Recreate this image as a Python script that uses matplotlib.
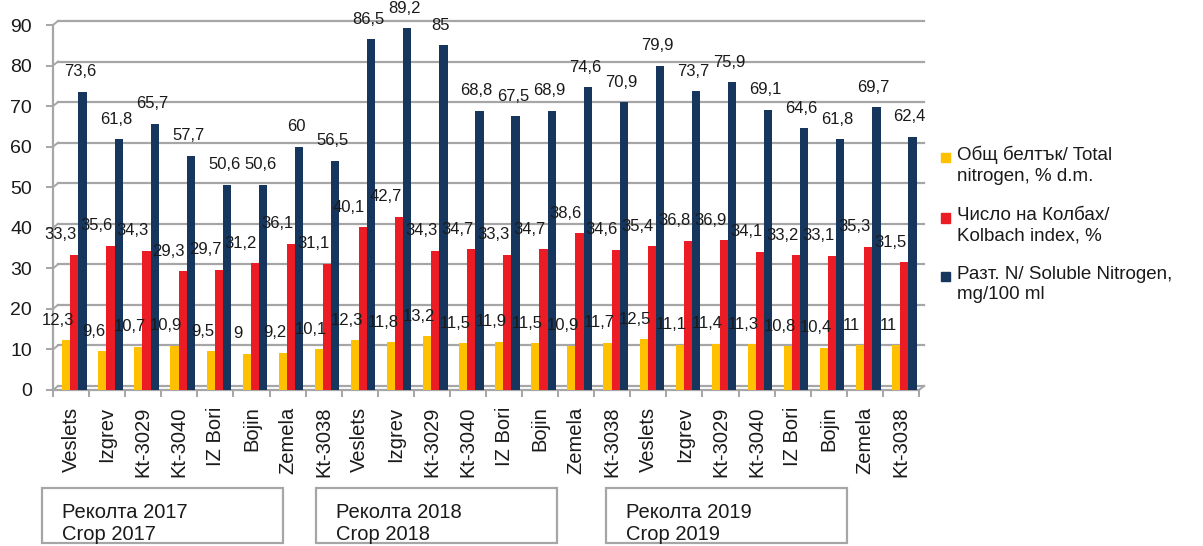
import matplotlib.pyplot as plt
import matplotlib.transforms as mtransforms
from matplotlib.patches import Rectangle
import numpy as np

plt.rcParams['font.family'] = ['Liberation Sans', 'DejaVu Sans']

varieties = ['Veslets', 'Izgrev', 'Kt-3029', 'Kt-3040', 'IZ Bori', 'Bojin', 'Zemela', 'Kt-3038']
years = ['2017', '2018', '2019']

total_n = [12.3, 9.6, 10.7, 10.9, 9.5, 9.0, 9.2, 10.1,
           12.3, 11.8, 13.2, 11.5, 11.9, 11.5, 10.9, 11.7,
           12.5, 11.1, 11.4, 11.3, 10.8, 10.4, 11.0, 11.0]
kolbach = [33.3, 35.6, 34.3, 29.3, 29.7, 31.2, 36.1, 31.1,
           40.1, 42.7, 34.3, 34.7, 33.3, 34.7, 38.6, 34.6,
           35.4, 36.8, 36.9, 34.1, 33.2, 33.1, 35.3, 31.5]
soluble = [73.6, 61.8, 65.7, 57.7, 50.6, 50.6, 60.0, 56.5,
           86.5, 89.2, 85.0, 68.8, 67.5, 68.9, 74.6, 70.9,
           79.9, 73.7, 75.9, 69.1, 64.6, 61.8, 69.7, 62.4]

series_names = ['Общ белтък/ Total\nnitrogen, % d.m.',
                'Число на Колбах/\nKolbach index, %',
                'Разт. N/ Soluble Nitrogen,\nmg/100 ml']
colors = ['#FFC000', '#EC1C24', '#17365D']

W, H = 1203, 546
fig = plt.figure(figsize=(W / 100, H / 100), dpi=100)
ax = fig.add_axes([53 / W, 1 - 390 / H, 866 / W, 365 / H])

labels = varieties * len(years)
x = np.arange(len(labels))
grid_c = '#a6a6a6'
txt_c = '#1a1a1a'

# bars, value labels sit a little to the left of each bar
bw = 0.23
offsets = [-0.13, 0.095, 0.32]
label_dx = [-6, -10, -2]
for vals, off, col, ldx in zip([total_n, kolbach, soluble], offsets, colors, label_dx):
    ax.bar(x + off, vals, width=bw, color=col, zorder=3)
    for xi, v in zip(x, vals):
        ax.annotate('{:g}'.format(v).replace('.', ','), (xi + off, v),
                    xytext=(ldx, 9), textcoords='offset points',
                    ha='center', va='bottom', fontsize=12, color=txt_c, zorder=5)

ax.set_xlim(-0.5, len(labels) - 0.5)
ax.set_ylim(0, 90)
yt = np.arange(0, 91, 10)

# back wall grid with a small 3-d shift
ytrans = ax.get_yaxis_transform()
shift = mtransforms.ScaledTranslation(5 / 100, 4 / 100, fig.dpi_scale_trans)
dx = 5 / 866
dy = 4 / 365 * 90
for t in yt:
    ax.plot([0, 1], [t, t], transform=ytrans + shift, color=grid_c, lw=1.6,
            zorder=0, clip_on=False)
    ax.plot([0, dx], [t, t + dy], transform=ytrans, color=grid_c, lw=1.4,
            zorder=0, clip_on=False)
ax.plot([1, 1 + dx], [0, dy], transform=ytrans, color=grid_c, lw=1.4, clip_on=False)

for s in ['top', 'right']:
    ax.spines[s].set_visible(False)
for s in ['left', 'bottom']:
    ax.spines[s].set_color(grid_c)
    ax.spines[s].set_linewidth(1.6)

ax.set_yticks(yt)
ax.tick_params(axis='y', length=5, width=1.4, color=grid_c, pad=10,
               labelsize=14, labelcolor=txt_c)

# category boundaries as major ticks, names on minor ticks
ax.set_xticks(np.arange(-0.5, len(labels), 1.0))
ax.set_xticklabels([])
ax.set_xticks(x, minor=True)
ax.set_xticklabels(labels, minor=True, rotation=90, fontsize=14.5, color=txt_c)
ax.tick_params(axis='x', which='major', length=5, width=1.4, color=grid_c)
ax.tick_params(axis='x', which='minor', length=0, pad=12)
ax.set_facecolor('white')

# harvest year boxes under the categories
box_left = [42, 316, 606]
for bl, yr in zip(box_left, years):
    fig.patches.append(Rectangle((bl / W, 1 - 543 / H), 241 / W, 55 / H,
                                 transform=fig.transFigure, fill=False,
                                 edgecolor=grid_c, lw=1.6))
    fig.text((bl + 20) / W, 1 - 512 / H, 'Реколта ' + yr, fontsize=14.5,
             color=txt_c, va='center', ha='left')
    fig.text((bl + 20) / W, 1 - 535 / H, 'Crop ' + yr, fontsize=14.5,
             color=txt_c, va='center', ha='left')

# legend
leg_y = [157, 218, 277]
for yy, name, col in zip(leg_y, series_names, colors):
    fig.patches.append(Rectangle((941 / W, 1 - (yy + 4.5) / H), 9 / W, 9 / H,
                                 transform=fig.transFigure, color=col))
    fig.text(957 / W, 1 - (yy - 11) / H, name, fontsize=13.5, color=txt_c,
             va='top', ha='left', linespacing=1.25)

fig.savefig('out.png', dpi=100)
